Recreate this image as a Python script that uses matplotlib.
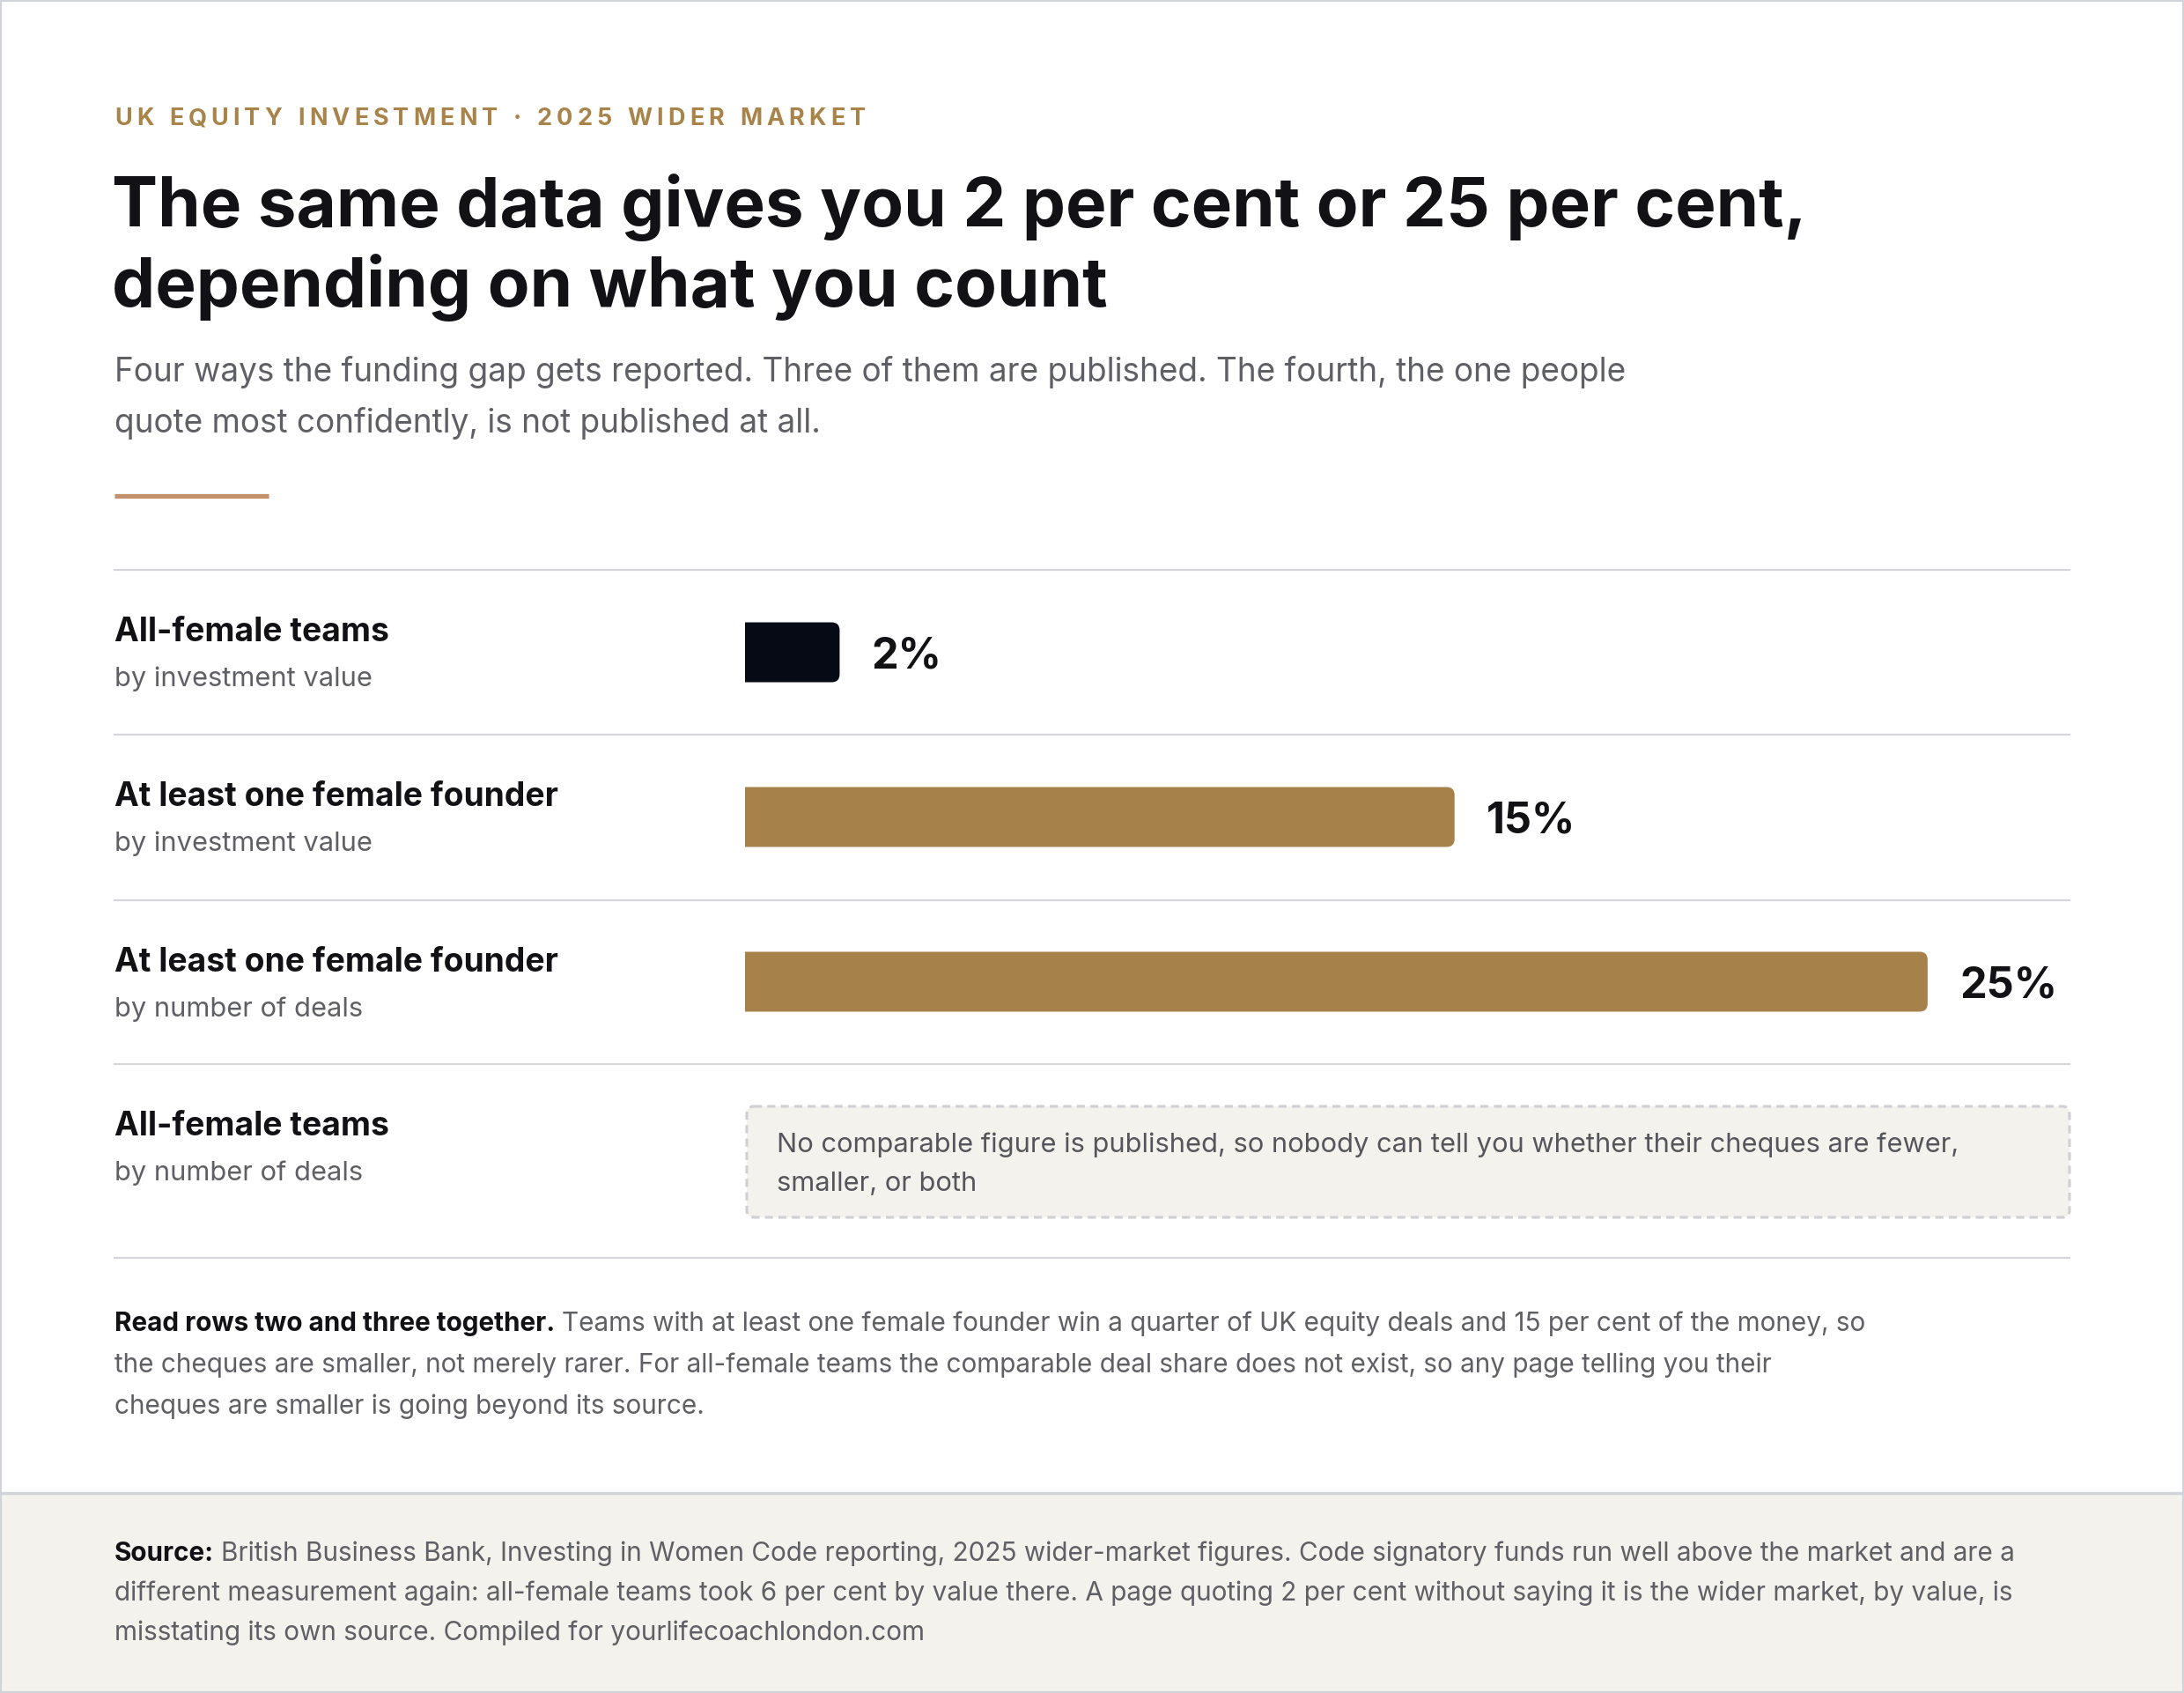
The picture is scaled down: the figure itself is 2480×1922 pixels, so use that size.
"""Funding-gap comparison card: four ways of counting the same UK equity data."""
import matplotlib
matplotlib.use("Agg")
import matplotlib.pyplot as plt
from matplotlib.patches import FancyBboxPatch, Rectangle

plt.rcParams["font.family"] = ["Inter", "DejaVu Sans"]

# ---- data -----------------------------------------------------------------
EYEBROW = "UK EQUITY INVESTMENT · 2025 WIDER MARKET"
TITLE = ["The same data gives you 2 per cent or 25 per cent,",
         "depending on what you count"]
SUBTITLE = ["Four ways the funding gap gets reported. Three of them are published. The fourth, the one people",
            "quote most confidently, is not published at all."]
ROW_LABELS = ["All-female teams", "At least one female founder",
              "At least one female founder", "All-female teams"]
ROW_SUBLABELS = ["by investment value", "by investment value",
                 "by number of deals", "by number of deals"]
SHARES = [2, 15, 25]          # % share; the fourth measure is not published
BAR_COLORS = ["#050a14", "#a6824a", "#a6824a"]
NO_FIGURE = ["No comparable figure is published, so nobody can tell you whether their cheques are fewer,",
             "smaller, or both"]
NOTE_LEAD = "Read rows two and three together."
NOTE = ["Teams with at least one female founder win a quarter of UK equity deals and 15 per cent of the money, so",
        "the cheques are smaller, not merely rarer. For all-female teams the comparable deal share does not exist, so any page telling you their",
        "cheques are smaller is going beyond its source."]
SOURCE_LEAD = "Source:"
SOURCE = ["British Business Bank, Investing in Women Code reporting, 2025 wider-market figures. Code signatory funds run well above the market and are a",
          "different measurement again: all-female teams took 6 per cent by value there. A page quoting 2 per cent without saying it is the wider market, by value, is",
          "misstating its own source. Compiled for yourlifecoachlondon.com"]

# ---- style ----------------------------------------------------------------
W, H = 2480, 1922
INK = "#121216"
GREY = "#5f5f66"
GOLD = "#a8844a"
RULE = "#d6d6db"
PAPER = "#f4f2ec"
LEFT = 130
RIGHT = 2350
ROW_TOPS = [647, 834, 1022, 1208]
ROWS_BOTTOM = 1428
BAR_LEFT = 846

fig = plt.figure(figsize=(W / 100, H / 100), dpi=100)
fig.patch.set_facecolor("white")
r = fig.canvas.get_renderer()

# full-figure pixel canvas for text and rules
ax = fig.add_axes([0, 0, 1, 1])
ax.set_xlim(0, W)
ax.set_ylim(H, 0)
ax.axis("off")


def width(t):
    return t.get_window_extent(r).width


def tracked(x, y, s, spacing, size, **kw):
    for ch in s:
        if ch == " ":
            x += 0.28 * size / 0.72 + spacing
            continue
        t = ax.text(x, y, ch, fontsize=size, va="baseline", **kw)
        x += width(t) + spacing


def lead_line(x, y, lead, rest, size):
    t = ax.text(x, y, lead, fontsize=size, fontweight="bold", color=INK, va="baseline")
    ax.text(x + width(t) + 0.27 * size / 0.72, y, rest, fontsize=size, color=GREY, va="baseline")


# header
tracked(LEFT, 142, EYEBROW, 5.1, 19.5, color=GOLD, fontweight="bold")
for i, line in enumerate(TITLE):
    ax.text(LEFT - 3, 257 + i * 91, line, fontsize=56.2, fontweight="bold", color=INK, va="baseline")
for i, line in enumerate(SUBTITLE):
    ax.text(LEFT, 433 + i * 58, line, fontsize=26.6, color=GREY, va="baseline")
ax.plot([LEFT, 305], [563, 563], color="#c0916a", lw=3.8, solid_capstyle="butt")

# row rules and labels
for y in ROW_TOPS + [ROWS_BOTTOM]:
    ax.plot([LEFT, RIGHT], [y, y], color=RULE, lw=1.6)
for top, label, sub in zip(ROW_TOPS, ROW_LABELS, ROW_SUBLABELS):
    ax.text(LEFT, top + 81, label, fontsize=26.8, fontweight="bold", color=INK, va="baseline")
    ax.text(LEFT, top + 132, sub, fontsize=22.2, color=GREY, va="baseline")

# bars on their own percentage scale
row_h = ROW_TOPS[1] - ROW_TOPS[0]
bx = fig.add_axes([BAR_LEFT / W, 1 - ROW_TOPS[3] / H,
                   (RIGHT - BAR_LEFT) / W, (ROW_TOPS[3] - ROW_TOPS[0]) / H])
bx.set_xlim(0, 28)
bx.set_ylim(len(SHARES) - 0.5, -0.5)
bx.axis("off")
bar_h = 68 / row_h
bars = bx.barh(range(len(SHARES)), SHARES, height=bar_h, color=BAR_COLORS)
x_per_px = 28 / (RIGHT - BAR_LEFT)
y_per_px = len(SHARES) / (ROW_TOPS[3] - ROW_TOPS[0])
for b, v, c in zip(bars, SHARES, BAR_COLORS):
    x0, y0, w, h = b.get_x(), b.get_y(), b.get_width(), b.get_height()
    b.set_visible(False)
    # start left of the axis so the clip gives a square left end, rounded right end
    pad = 1.0
    bx.add_patch(FancyBboxPatch((x0 - pad, y0), w + pad, h,
                                boxstyle=f"round,pad=0,rounding_size={9 * x_per_px}",
                                mutation_aspect=y_per_px / x_per_px, fc=c, ec="none"))
    bx.annotate(f"{v}%", xy=(v, y0 + h / 2), xytext=(26, -13), textcoords="offset points",
                fontsize=35, fontweight="bold", color=INK, va="baseline", ha="left")

# unpublished measure: dashed placeholder
ax.add_patch(FancyBboxPatch((848, 1256), RIGHT - 848, 126, boxstyle="round,pad=0,rounding_size=8",
                            fc=PAPER, ec="#cfcfd4", lw=2.2, ls=(0, (3, 2))))
for i, line in enumerate(NO_FIGURE):
    ax.text(882, 1308 + i * 44, line, fontsize=22.2, color="#55555c", va="baseline")

# reading note
lead_line(LEFT, 1511, NOTE_LEAD, NOTE[0], 21.4)
for i, line in enumerate(NOTE[1:], start=1):
    ax.text(LEFT, 1511 + i * 47, line, fontsize=21.4, color=GREY, va="baseline")

# source footer
ax.add_patch(Rectangle((0, 1695), W, H - 1695, fc=PAPER, ec="none"))
ax.plot([0, W], [1695, 1695], color="#d0d3d7", lw=2.4)
lead_line(LEFT, 1772, SOURCE_LEAD, SOURCE[0], 21.4)
for i, line in enumerate(SOURCE[1:], start=1):
    ax.text(LEFT, 1772 + i * 45, line, fontsize=21.4, color=GREY, va="baseline")

# card border
ax.add_patch(Rectangle((1, 1), W - 2, H - 2, fc="none", ec="#d0d3d7", lw=1.6))

fig.savefig("out.png", dpi=100)
